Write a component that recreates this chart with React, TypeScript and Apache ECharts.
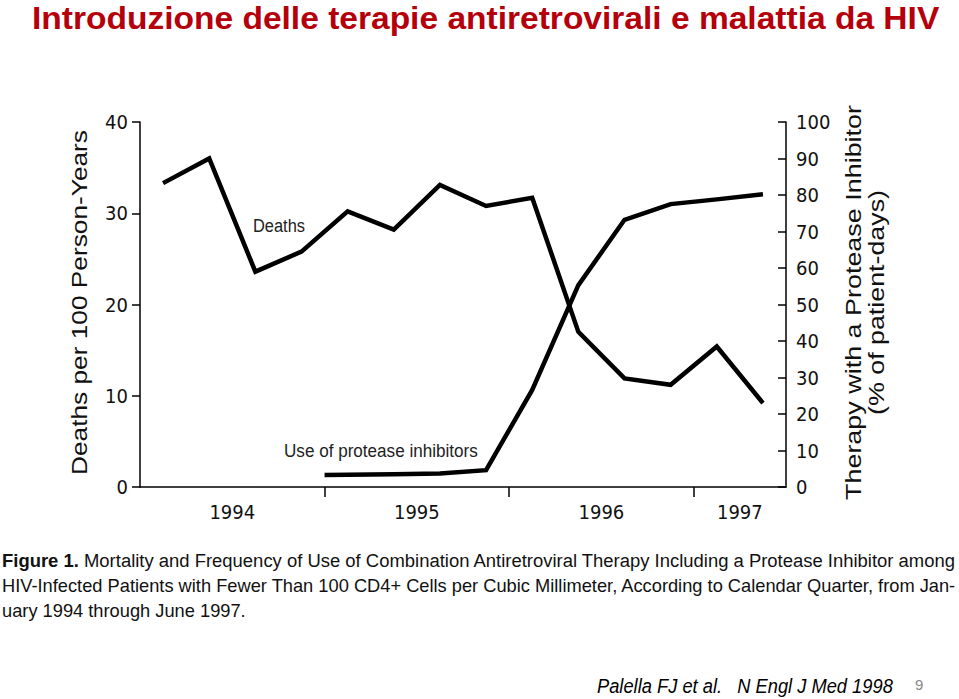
import React, { useEffect, useRef } from 'react';
import * as echarts from 'echarts';

// Calendar quarters (Jan 1994 – Jun 1997)
const quarters = [
  '1994 Q1', '1994 Q2', '1994 Q3', '1994 Q4',
  '1995 Q1', '1995 Q2', '1995 Q3', '1995 Q4',
  '1996 Q1', '1996 Q2', '1996 Q3', '1996 Q4',
  '1997 Q1', '1997 Q2',
];
// Deaths per 100 person-years, one value per quarter
const deathsPer100PY = [33.3, 36.0, 23.6, 25.8, 30.2, 28.2, 33.1, 30.8, 31.7, 17.0, 11.9, 11.2, 15.4, 9.2];
// Use of protease inhibitors (% of patient-days), time in calendar years
const piTimes = [1995.0, 1995.375, 1995.625, 1995.875, 1996.125, 1996.375, 1996.625, 1996.875, 1997.125, 1997.375];
const piPercent = [3.3, 3.5, 3.7, 4.6, 26.6, 55.3, 73.2, 77.5, 78.8, 80.2];

const titleText = 'Introduzione delle terapie antiretrovirali e malattia da HIV';
const leftAxisName = 'Deaths per 100 Person-Years';
const rightAxisName1 = 'Therapy with a Protease Inhibitor';
const rightAxisName2 = '(% of patient-days)';
const deathsLabel = 'Deaths';
const piLabel = 'Use of protease inhibitors';
const captionBold = 'Figure 1.';
const captionLines = [
  ' Mortality and Frequency of Use of Combination Antiretroviral Therapy Including a Protease Inhibitor among',
  'HIV-Infected Patients with Fewer Than 100 CD4+ Cells per Cubic Millimeter, According to Calendar Quarter, from Jan-',
  'uary 1994 through June 1997.',
];
const sourceText = 'Palella FJ et al.   N Engl J Med 1998';
const pageNumber = '9';

const NARROW = "'DejaVu Sans Condensed', 'Liberation Sans Narrow', sans-serif";
const SANS = "'Liberation Sans', Arial, Helvetica, sans-serif";

function quarterTime(q: string): number {
  const [y, qq] = q.split(' ');
  return Number(y) + (Number(qq.slice(1)) - 0.5) / 4;
}

const canvas = typeof document !== 'undefined' ? document.createElement('canvas') : null;
function textWidth(text: string, font: string): number {
  const ctx = canvas ? canvas.getContext('2d') : null;
  if (!ctx) return text.length * 10;
  ctx.font = font;
  return ctx.measureText(text).width;
}

export default function App() {
  const ref = useRef<HTMLDivElement>(null);
  useEffect(() => {
    document.body.style.margin = '0';
    if (!ref.current) return;
    const chart = echarts.init(ref.current, null, { renderer: 'svg' });

    const years = Array.from(new Set(quarters.map((q) => Number(q.split(' ')[0]))));
    const countIn = (y: number) => quarters.filter((q) => q.startsWith(String(y))).length;
    const yearCenters = years.map((y) => y + countIn(y) / 8);
    const yearBounds = years.slice(1);
    const xMin = years[0];
    const xMax = years[years.length - 1] + countIn(years[years.length - 1]) / 4;

    const deathsData = quarters.map((q, i) => [quarterTime(q), deathsPer100PY[i]]);
    const piData = piTimes.map((t, i) => [t, piPercent[i]]);

    const fit = (text: string, font: string, target: number) => target / textWidth(text, font);

    const titleFont = `bold 32px 'Liberation Sans'`;
    const nameFont = `22px 'Liberation Sans'`;
    const capFont = `19px 'Liberation Sans'`;
    const capBoldFont = `bold 19px 'Liberation Sans'`;
    const cap0W = textWidth(captionBold, capBoldFont) + textWidth(captionLines[0], capFont);
    const cap1W = textWidth(captionLines[1], capFont);
    const capScale = [955 / cap0W, 955 / cap1W, 955 / cap1W];

    chart.setOption({
      animation: false,
      backgroundColor: '#ffffff',
      grid: { left: 140, right: 173, top: 122, bottom: 212, containLabel: false },
      xAxis: {
        type: 'value',
        min: xMin,
        max: xMax,
        splitLine: { show: false },
        axisLine: { show: true, lineStyle: { color: '#000', width: 1.5 } },
        axisTick: { show: true, customValues: yearBounds, length: 10, lineStyle: { color: '#000', width: 1.5 } },
        axisLabel: {
          customValues: yearCenters,
          formatter: (v: number) => String(Math.floor(v)),
          fontFamily: NARROW,
          fontSize: 20,
          color: '#111',
          margin: 15,
        },
      },
      yAxis: [
        {
          type: 'value',
          position: 'left',
          min: 0,
          max: 40,
          interval: 10,
          splitLine: { show: false },
          axisLine: { show: true, lineStyle: { color: '#000', width: 1.5 } },
          axisTick: { show: true, length: 8, lineStyle: { color: '#000', width: 1.5 } },
          axisLabel: { fontFamily: NARROW, fontSize: 20, color: '#111', margin: 12 },
        },
        {
          type: 'value',
          position: 'right',
          min: 0,
          max: 100,
          interval: 10,
          splitLine: { show: false },
          axisLine: { show: true, lineStyle: { color: '#000', width: 1.5 } },
          axisTick: { show: true, inside: true, length: 8, lineStyle: { color: '#000', width: 1.5 } },
          axisLabel: { fontFamily: NARROW, fontSize: 20, color: '#111', margin: 10 },
        },
      ],
      series: [
        {
          name: 'Deaths',
          type: 'line',
          yAxisIndex: 0,
          data: deathsData,
          symbol: 'none',
          lineStyle: { color: '#000', width: 4.5, join: 'miter' },
        },
        {
          name: 'Use of protease inhibitors',
          type: 'line',
          yAxisIndex: 1,
          data: piData,
          symbol: 'none',
          lineStyle: { color: '#000', width: 4.5, join: 'miter' },
        },
      ],
      graphic: [
        {
          type: 'text',
          x: 32,
          y: 18,
          scaleX: fit(titleText, titleFont, 908),
          style: {
            text: titleText,
            fontFamily: SANS,
            fontWeight: 'bold',
            fontSize: 32,
            fill: '#B5000C',
            verticalAlign: 'middle',
          },
        },
        {
          type: 'text',
          x: 79,
          y: 302.5,
          rotation: Math.PI / 2,
          scaleX: fit(leftAxisName, nameFont, 345),
          style: { text: leftAxisName, fontFamily: SANS, fontSize: 22, fill: '#111', align: 'center', verticalAlign: 'middle' },
        },
        {
          type: 'text',
          x: 853,
          y: 302.5,
          rotation: Math.PI / 2,
          scaleX: fit(rightAxisName1, nameFont, 395),
          style: { text: rightAxisName1, fontFamily: SANS, fontSize: 22, fill: '#111', align: 'center', verticalAlign: 'middle' },
        },
        {
          type: 'text',
          x: 876,
          y: 302.5,
          rotation: Math.PI / 2,
          scaleX: fit(rightAxisName2, nameFont, 225),
          style: { text: rightAxisName2, fontFamily: SANS, fontSize: 22, fill: '#111', align: 'center', verticalAlign: 'middle' },
        },
        {
          type: 'text',
          x: 253,
          y: 226,
          scaleX: fit(deathsLabel, `19px 'Liberation Sans'`, 52),
          style: { text: deathsLabel, fontFamily: SANS, fontSize: 19, fill: '#222', verticalAlign: 'middle' },
        },
        {
          type: 'text',
          x: 284,
          y: 451,
          scaleX: fit(piLabel, `19px 'Liberation Sans'`, 194),
          style: { text: piLabel, fontFamily: SANS, fontSize: 19, fill: '#222', verticalAlign: 'middle' },
        },
        ...captionLines.map((t, i) => ({
          type: 'text',
          x: 2,
          y: 560 + i * 25,
          scaleX: capScale[i],
          style: {
            text: i === 0 ? `{b|${captionBold}}${t}` : t,
            fontFamily: SANS,
            fontSize: 19,
            fill: '#111',
            verticalAlign: 'middle',
            rich: { b: { fontFamily: SANS, fontSize: 19, fontWeight: 'bold', fill: '#111' } },
          },
        })),
        {
          type: 'text',
          x: 597,
          y: 686,
          scaleX: fit(sourceText, `italic 20px 'Liberation Sans'`, 296),
          style: { text: sourceText, fontFamily: SANS, fontStyle: 'italic', fontSize: 20, fill: '#000', verticalAlign: 'middle' },
        },
        {
          type: 'text',
          x: 915,
          y: 684,
          style: { text: pageNumber, fontFamily: SANS, fontSize: 15, fill: '#888', verticalAlign: 'middle' },
        },
      ],
    });
    return () => chart.dispose();
  }, []);
  return <div ref={ref} style={{ width: 959, height: 699 }} />;
}
